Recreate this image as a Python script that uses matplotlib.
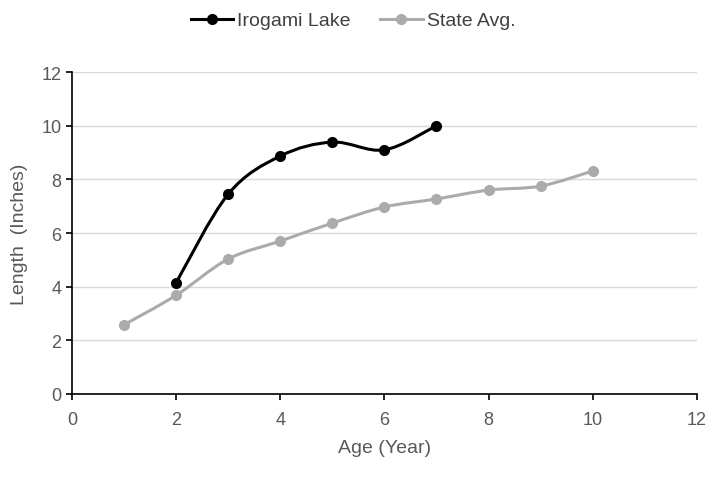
import matplotlib
matplotlib.use("Agg")
import matplotlib.pyplot as plt
import numpy as np
from matplotlib.path import Path
from matplotlib.patches import PathPatch
from matplotlib.lines import Line2D

# DATA
lake_age = [2, 3, 4, 5, 6, 7]
lake_len = [4.15, 7.45, 8.87, 9.39, 9.1, 10.0]
state_age = [1, 2, 3, 4, 5, 6, 7, 8, 9, 10]
state_len = [2.58, 3.68, 5.03, 5.7, 6.37, 6.97, 7.27, 7.6, 7.75, 8.31]

plt.rcParams['font.family'] = ['Liberation Sans Narrow', 'Liberation Sans', 'DejaVu Sans']


def smooth_patch(x, y, color):
    # Excel-style smoothed line: cubic bezier segments (catmull-rom)
    pts = np.column_stack([x, y]).astype(float)
    verts = [pts[0]]
    codes = [Path.MOVETO]
    n = len(pts)
    for i in range(n - 1):
        p0 = pts[i - 1] if i > 0 else pts[i]
        p1, p2 = pts[i], pts[i + 1]
        p3 = pts[i + 2] if i + 2 < n else pts[i + 1]
        c1 = p1 + (p2 - p0) / 6
        c2 = p2 - (p3 - p1) / 6
        verts += [c1, c2, p2]
        codes += [Path.CURVE4] * 3
    return PathPatch(Path(verts, codes), facecolor='none', edgecolor=color, lw=2.2, zorder=3)


fig = plt.figure(figsize=(7.06, 4.81), dpi=100)
ax = fig.add_axes([0.102, 0.179, 0.885, 0.669])

grey = '#ababab'
ax.add_patch(smooth_patch(state_age, state_len, grey))
ax.plot(state_age, state_len, 'o', color=grey, ms=7, zorder=4)
ax.add_patch(smooth_patch(lake_age, lake_len, 'black'))
ax.plot(lake_age, lake_len, 'o', color='black', ms=7, zorder=5)

ax.set_xlim(0, 12)
ax.set_ylim(0, 12)
ax.set_xticks(range(0, 13, 2))
ax.set_yticks(range(0, 13, 2))
ax.grid(axis='y', color='#d9d9d9', lw=1)
ax.set_axisbelow(True)
for s in ['top', 'right']:
    ax.spines[s].set_visible(False)
ax.spines['left'].set_linewidth(1.2)
ax.spines['bottom'].set_linewidth(1.2)
ax.tick_params(axis='both', direction='out', length=4, width=1.2, labelsize=13, labelcolor='#595959')
ax.tick_params(axis='x', pad=8)

ax.set_xlabel('Age (Year)', fontsize=14, color='#595959', labelpad=8)
ax.set_ylabel('Length  (Inches)', fontsize=14, color='#595959', family='Liberation Sans', labelpad=10)

handles = [Line2D([], [], color='black', lw=2.2, marker='o', ms=7),
           Line2D([], [], color=grey, lw=2.2, marker='o', ms=7)]
fig.legend(handles, ['Irogami Lake', 'State Avg.'], loc='center', bbox_to_anchor=(0.5, 0.955),
           ncol=2, frameon=False, fontsize=14, handlelength=2.2, handletextpad=0.2,
           columnspacing=1.5, labelcolor='#404040')

fig.savefig('out.png', dpi=100)
